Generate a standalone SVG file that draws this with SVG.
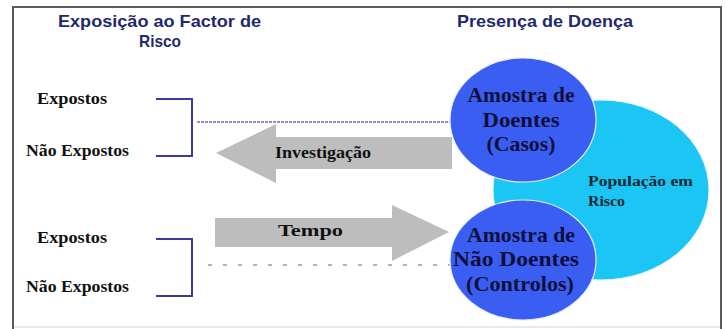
<svg xmlns="http://www.w3.org/2000/svg" width="727" height="329" viewBox="0 0 727 329">
<defs>
<style>
.title{font-family:"Liberation Sans Narrow","Liberation Sans",Arial,sans-serif;font-weight:bold;font-size:17px;fill:#1f2a6d}
.lbl{font-family:"Liberation Serif","Times New Roman",serif;font-weight:bold;font-size:16px;fill:#111111}
.ctext{font-family:"Liberation Serif","Times New Roman",serif;font-weight:bold;font-size:21px;fill:#0e0f3c;text-anchor:middle}
.ptext{font-family:"Liberation Serif","Times New Roman",serif;font-weight:bold;font-size:15px;fill:#0b2a33}
.bracket{fill:none;stroke:#3c3c96;stroke-width:2}
.arrow{fill:#bdbdbd}
.blue{fill:#3b5ef2;stroke:#e6eeff;stroke-width:1.2}
</style>
</defs>
<rect x="0" y="0" width="727" height="329" fill="#ffffff"/>
<path d="M13,340 V7 H721 V340" fill="none" stroke="#5a5a5a" stroke-width="2"/>
<line x1="14" y1="327" x2="720" y2="327" stroke="#e2e2e2" stroke-width="1.5"/>

<g id="titles">
<text class="title" x="58" y="27" textLength="203" lengthAdjust="spacingAndGlyphs">Exposição ao Factor de</text>
<text class="title" x="160" y="47" text-anchor="middle" textLength="42" lengthAdjust="spacingAndGlyphs">Risco</text>
<text class="title" x="457" y="27" textLength="176" lengthAdjust="spacingAndGlyphs">Presença de Doença</text>
</g>

<g id="connectors">
<line x1="197" y1="122" x2="455" y2="122" stroke="#6b6bb5" stroke-width="1.5" stroke-dasharray="3 1"/>
<line x1="208" y1="265" x2="452" y2="265" stroke="#9a9a9a" stroke-width="1.5" stroke-dasharray="4 11"/>
<polygon id="arrow-investigacao" class="arrow" points="216,153 276,124 276,137 452,137 452,169 276,169 276,183"/>
<polygon id="arrow-tempo" class="arrow" points="215,218 392,218 392,205 449,232 392,261 392,247 215,247"/>
<text class="lbl" x="275" y="158" textLength="96" lengthAdjust="spacingAndGlyphs">Investigação</text>
<text class="lbl" x="278" y="236" textLength="65" lengthAdjust="spacingAndGlyphs">Tempo</text>
</g>

<g id="exposure-top">
<text class="lbl" x="37" y="104" textLength="70" lengthAdjust="spacingAndGlyphs">Expostos</text>
<text class="lbl" x="26" y="156" textLength="103" lengthAdjust="spacingAndGlyphs">Não Expostos</text>
<path class="bracket" d="M156,99 H192 V156 H156"/>
</g>

<g id="exposure-bottom">
<text class="lbl" x="37" y="243" textLength="70" lengthAdjust="spacingAndGlyphs">Expostos</text>
<text class="lbl" x="26" y="292" textLength="103" lengthAdjust="spacingAndGlyphs">Não Expostos</text>
<path class="bracket" d="M156,239 H192 V296 H156"/>
</g>

<g id="populacao">
<ellipse cx="601" cy="190" rx="108" ry="90" fill="#1bc6f5" stroke="#e6f8ff" stroke-width="1"/>
<text class="ptext" x="588" y="186" textLength="105" lengthAdjust="spacingAndGlyphs">População em</text>
<text class="ptext" x="588" y="206" textLength="37" lengthAdjust="spacingAndGlyphs">Risco</text>
</g>

<g id="casos">
<ellipse class="blue" cx="523" cy="120" rx="73" ry="62"/>
<text class="ctext" x="521" y="102" textLength="107" lengthAdjust="spacingAndGlyphs">Amostra de</text>
<text class="ctext" x="521" y="127" textLength="77" lengthAdjust="spacingAndGlyphs">Doentes</text>
<text class="ctext" x="521" y="151" textLength="69" lengthAdjust="spacingAndGlyphs">(Casos)</text>
</g>

<g id="controlos">
<ellipse class="blue" cx="523" cy="260" rx="73" ry="60"/>
<text class="ctext" x="521" y="242" textLength="108" lengthAdjust="spacingAndGlyphs">Amostra de</text>
<text class="ctext" x="516" y="266" textLength="126" lengthAdjust="spacingAndGlyphs">Não Doentes</text>
<text class="ctext" x="520" y="291" textLength="108" lengthAdjust="spacingAndGlyphs">(Controlos)</text>
</g>
</svg>
